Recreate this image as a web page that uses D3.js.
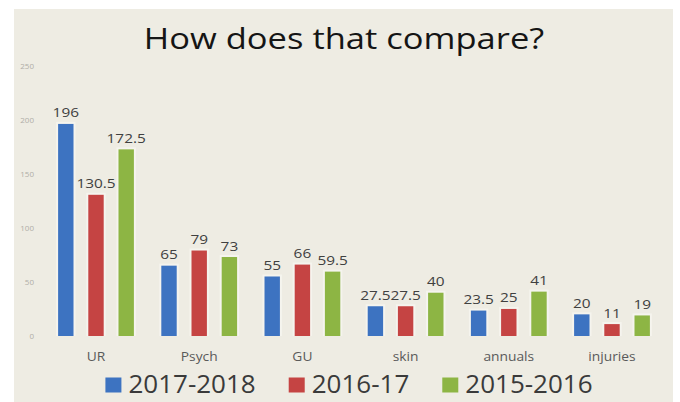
<!DOCTYPE html>
<html>
<head>
<meta charset="utf-8">
<script src="https://cdn.jsdelivr.net/npm/d3@7"></script>
<style>
  html, body { margin: 0; padding: 0; background: #ffffff; }
  svg { display: block; }
</style>
</head>
<body>
<svg id="chart" width="680" height="402"></svg>
<script>
// Visit counts per category, three reporting periods
const categories = ["UR", "Psych", "GU", "skin", "annuals", "injuries"];
const seriesNames = ["2017-2018", "2016-17", "2015-2016"];
const values2017_2018 = [196, 65, 55, 27.5, 23.5, 20];
const values2016_17 = [130.5, 79, 66, 27.5, 25, 11];
const values2015_2016 = [172.5, 73, 59.5, 40, 41, 19];
const yTickValues = [0, 50, 100, 150, 200, 250];
const seriesColors = ["#3d73c1", "#c54443", "#8db544"];
const titleText = "How does that compare?";

const seriesValues = [values2017_2018, values2016_17, values2015_2016];

const svg = d3.select("#chart");
const FONT = "'Open Sans', 'Liberation Sans', sans-serif";

// slide background panel
svg.append("rect")
  .attr("x", 14).attr("y", 9)
  .attr("width", 659).attr("height", 393)
  .attr("fill", "#eeece3");

// title, widened to the slide's proportions
svg.append("text")
  .attr("transform", "translate(344,49) scale(1.17,1)")
  .attr("text-anchor", "middle")
  .attr("font-family", FONT)
  .attr("font-size", 29.5)
  .attr("fill", "#151515")
  .text(titleText);

// scales
const x0 = d3.scaleBand()
  .domain(categories)
  .range([44.4, 663.6])
  .padding(0);

const x1 = d3.scaleBand()
  .domain(seriesNames)
  .range([0, x0.bandwidth()])
  .paddingInner(0.49)
  .paddingOuter(0.454);

const y = d3.scaleLinear()
  .domain([0, 250])
  .range([336, 65.5]);

// y axis: faint small tick labels only
const yAxis = svg.append("g")
  .attr("transform", "translate(34,0)")
  .call(d3.axisLeft(y).tickValues(yTickValues).tickSize(0).tickPadding(0));
yAxis.select(".domain").remove();
yAxis.selectAll("text")
  .attr("font-family", FONT)
  .attr("font-size", 8)
  .attr("fill", "#b0aea7");

// x axis: category names
const xAxis = svg.append("g")
  .attr("transform", "translate(0,352)")
  .call(d3.axisBottom(x0).tickSize(0).tickPadding(0));
xAxis.select(".domain").remove();
xAxis.selectAll("text")
  .attr("font-family", FONT)
  .attr("font-size", 12)
  .attr("fill", "#5a5a5a")
  .attr("transform", "scale(1.15,1)");

// flatten data into one record per bar
const bars = [];
categories.forEach((cat, ci) => {
  seriesNames.forEach((s, si) => {
    bars.push({ cat, series: s, si, value: seriesValues[si][ci] });
  });
});

const groups = svg.append("g");

// soft light halo behind each bar
groups.selectAll("rect.halo")
  .data(bars)
  .join("rect")
  .attr("class", "halo")
  .attr("x", d => x0(d.cat) + x1(d.series) - 2)
  .attr("y", d => y(d.value) - 2)
  .attr("width", x1.bandwidth() + 4)
  .attr("height", d => y(0) - y(d.value) + 2)
  .attr("fill", "#f5f4ee");

groups.selectAll("rect.bar")
  .data(bars)
  .join("rect")
  .attr("class", "bar")
  .attr("x", d => x0(d.cat) + x1(d.series))
  .attr("y", d => y(d.value))
  .attr("width", x1.bandwidth())
  .attr("height", d => y(0) - y(d.value))
  .attr("fill", d => seriesColors[d.si]);

// value labels above bars
groups.selectAll("text.val")
  .data(bars)
  .join("text")
  .attr("class", "val")
  .attr("text-anchor", "middle")
  .attr("transform", d => `translate(${x0(d.cat) + x1(d.series) + x1.bandwidth() / 2},${y(d.value) - 6.5}) scale(1.14,1)`)
  .attr("font-family", FONT)
  .attr("font-size", 13.5)
  .attr("fill", "#404040")
  .text(d => d.value);

// legend, centered under the plot
const legend = svg.append("g");
const items = legend.selectAll("g.item")
  .data(seriesNames)
  .join("g")
  .attr("class", "item");

items.append("rect")
  .attr("width", 16).attr("height", 15)
  .attr("y", 377.5)
  .attr("fill", (d, i) => seriesColors[i]);

items.append("text")
  .attr("y", 393)
  .attr("x", 23)
  .attr("font-family", FONT)
  .attr("font-size", 26)
  .attr("fill", "#3a3a3a")
  .text(d => d);

const gap = 33;
const widths = [];
items.each(function () {
  widths.push(23 + this.querySelector("text").getComputedTextLength());
});
const total = d3.sum(widths) + gap * (widths.length - 1);
let cursor = 349 - total / 2;
items.each(function (d, i) {
  d3.select(this).attr("transform", `translate(${cursor},0)`);
  cursor += widths[i] + gap;
});
</script>
</body>
</html>
